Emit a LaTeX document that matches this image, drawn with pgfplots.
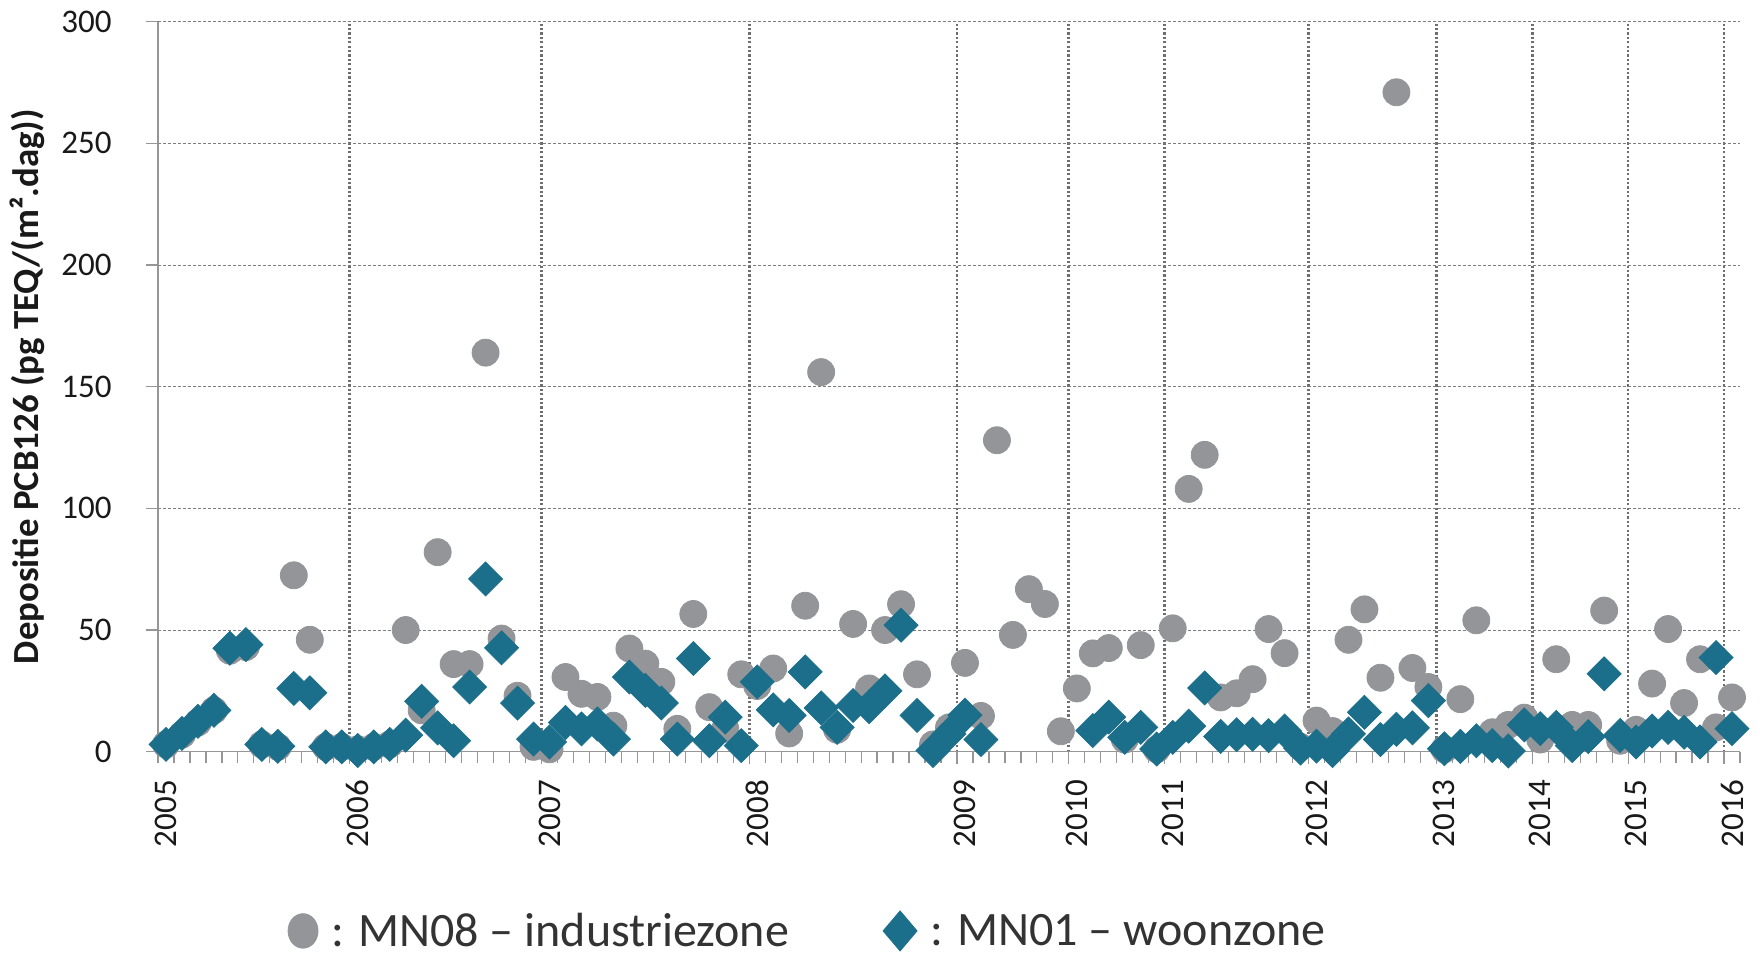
\documentclass[border=0pt]{standalone}
\usepackage{fontspec}
\setmainfont{Carlito}
\usepackage{pgfplots}
\pgfplotsset{compat=1.18}
\usepackage{pgfplotstable}
\definecolor{mngray}{RGB}{147,149,153}
\definecolor{mnteal}{RGB}{27,111,139}
\definecolor{axgray}{RGB}{150,150,150}
\definecolor{gridgray}{RGB}{125,125,125}
\definecolor{vgridgray}{RGB}{110,110,110}

\pgfplotstableread{
x y
0.5 3
1.5 7
2.5 12
3.5 17
4.5 41.5
5.5 43
6.5 3
7.5 2
8.5 72.5
9.5 46
10.5 2
11.5 2
12.5 1
13.5 2
14.5 3
15.5 50
16.5 17
17.5 82
18.5 36
19.5 36
20.5 164
21.5 46.5
22.5 23
23.5 2
24.5 1
25.5 30.7
26.5 23.8
27.5 22.5
28.5 10.7
29.5 42.4
30.5 36.2
31.5 28.7
32.5 9.4
33.5 56.6
34.5 18.3
35.5 9.4
36.5 31.8
37.5 27
38.5 34.2
39.5 7.5
40.5 60
41.5 156
42.5 9
43.5 52.5
44.5 26
45.5 50
46.5 60.6
47.5 31.8
48.5 3
49.5 10
50.5 36.5
51.5 14.7
52.5 128
53.5 48
54.5 66.8
55.5 60.7
56.5 8.4
57.5 26
58.5 40.4
59.5 42.6
60.5 5
61.5 43.8
62.5 1
63.5 50.7
64.5 108
65.5 122
66.5 22.3
67.5 24
68.5 29.8
69.5 50.4
70.5 40.5
71.5 2
72.5 12.8
73.5 8.5
74.5 46
75.5 58.5
76.5 30.4
77.5 271
78.5 34.4
79.5 26.6
80.5 1
81.5 21.6
82.5 54
83.5 8
84.5 11
85.5 14
86.5 5
87.5 38
88.5 11
89.5 11
90.5 58
91.5 4.5
92.5 9
93.5 28
94.5 50.4
95.5 20
96.5 38
97.5 10
98.5 22.3
}\mneight

\pgfplotstableread{
x y
0.5 3
1.5 7.5
2.5 12.5
3.5 17
4.5 42.5
5.5 44
6.5 3
7.5 2.2
8.5 26
9.5 24.2
10.5 2
11.5 2
12.5 0.5
13.5 2
14.5 3
15.5 6.8
16.5 20.7
17.5 9.8
18.5 4.5
19.5 26.6
20.5 71
21.5 42.7
22.5 20
23.5 5.2
24.5 4
25.5 12
26.5 9.4
27.5 11.4
28.5 5.2
29.5 30.7
30.5 25.2
31.5 20
32.5 5.2
33.5 38.3
34.5 4.5
35.5 14.2
36.5 2.5
37.5 28.7
38.5 17.2
39.5 14.9
40.5 32.8
41.5 18
42.5 10
43.5 19
44.5 18.5
45.5 25
46.5 52
47.5 14.9
48.5 0.5
49.5 7.3
50.5 15
51.5 5
58.5 8.7
59.5 14.2
60.5 5.9
61.5 10
62.5 1.1
63.5 5.9
64.5 10.5
65.5 26.2
66.5 6.3
67.5 7
68.5 7.2
69.5 6.6
70.5 8.5
71.5 1.5
72.5 2.3
73.5 0.5
74.5 7.3
75.5 16.2
76.5 5
77.5 9.2
78.5 9.8
79.5 21
80.5 1.2
81.5 2.2
82.5 4.5
83.5 2.5
84.5 0.3
85.5 11
86.5 9.5
87.5 10
88.5 2.5
89.5 6.2
90.5 32
91.5 6.7
92.5 4
93.5 8.5
94.5 10
95.5 8
96.5 4
97.5 38.7
98.5 9.5
}\mnone

\begin{document}
\begin{tikzpicture}
\path[use as bounding box] (-79pt,-101.65pt) rectangle (801pt,375.85pt);
\begin{axis}[
  at={(0pt,0pt)}, anchor=south west,
  scale only axis, width=791pt, height=365pt,
  xmin=0, xmax=99, ymin=0, ymax=300,
  clip=false,
  axis x line*=bottom, axis y line*=left,
  axis line style={axgray, line width=0.6pt, -},
  ytick={0,50,...,300},
  xtick={12,24,37,50,57,63,72,80,86,92,98},
  xticklabels={},
  minor xtick={0,1,...,99},
  tick align=outside,
  major tick length=6pt, minor tick length=5.5pt,
  every tick/.style={axgray, line width=0.6pt},
  extra x ticks={0.5,12.5,24.5,37.5,50.5,57.5,63.5,72.5,80.5,86.5,92.5,98.5},
  extra x tick labels={2005,2006,2007,2008,2009,2010,2011,2012,2013,2014,2015,2016},
  extra x tick style={grid=none, major tick length=0pt},
  xmajorgrids, ymajorgrids,
  x grid style={vgridgray, line width=1.35pt, dash pattern=on 1.1pt off 1.1pt},
  y grid style={gridgray, line width=0.5pt, dash pattern=on 1.7pt off 0.8pt},
  /pgf/number format/assume math mode=true,
  yticklabel style={font=\fontsize{16.5}{19}\selectfont, inner sep=0pt, anchor=east, xshift=-17pt, text=black!90},
  xticklabel style={font=\fontsize{16.5}{19}\selectfont, inner sep=0pt, yshift=-14pt, rotate=90, anchor=east, text=black!90},
  ylabel={Depositie PCB126 (pg TEQ/(m².dag))},
  ylabel style={font=\bfseries\fontsize{18.4}{21}\selectfont, at={(axis description cs:-0.0828,0.5)}, anchor=center, text=black!90},
  legend image code/.code={\draw[#1] plot coordinates {(0pt,0pt)};},
  legend columns=2,
  legend style={at={(axis description cs:0.0822,-0.2455)}, anchor=west, draw=none, fill=none, inner sep=0pt, outer sep=0pt,
    font=\fontsize{24}{28}\selectfont, text=black!80,
    nodes={inner sep=0pt},
    /tikz/every odd column/.append style={column sep=6.5pt},
    /tikz/every even column/.append style={column sep=47pt}},
]
\addplot[only marks, mark=*, mark size=6.75pt, color=mngray, forget plot] table[x=x,y=y] {\mneight};
\addplot[only marks, mark=square*, mark size=6pt, mark options={rotate=45}, color=mnteal, forget plot] table[x=x,y=y] {\mnone};
\addlegendimage{only marks, mark=*, mark size=7.5pt, color=mngray, mark options={yscale=1.15}}
\addlegendentry{: MN08 – industriezone}
\addlegendimage{only marks, mark=square*, mark size=6pt, color=mnteal, mark options={yscale=1.18, rotate=45}}
\addlegendentry{: MN01 – woonzone}
\end{axis}
\end{tikzpicture}
\end{document}
